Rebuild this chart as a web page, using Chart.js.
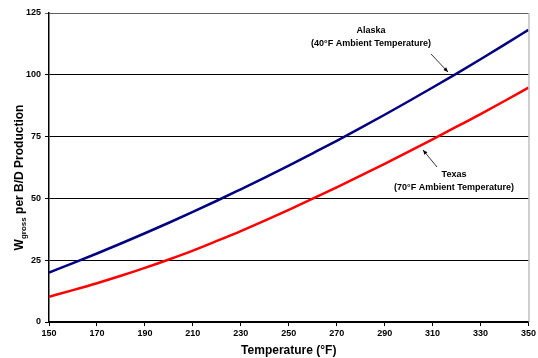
<!DOCTYPE html>
<html>
<head>
<meta charset="utf-8">
<script src="https://cdn.jsdelivr.net/npm/chart.js@4.4.0/dist/chart.umd.min.js"></script>
<style>
  html, body { margin: 0; padding: 0; background: #fff; }
  #wrap { width: 538px; height: 358px; position: relative; }
</style>
</head>
<body>
<div id="wrap"><canvas id="c" width="538" height="358"></canvas></div>
<script>
const temperatures = [150, 160, 170, 180, 190, 200, 210, 220, 230, 240, 250, 260, 270, 280, 290, 300, 310, 320, 330, 340, 350];
const alaskaValues = [20.0, 23.8, 27.7, 31.75, 35.9, 40.15, 44.55, 49.05, 53.7, 58.4, 63.25, 68.25, 73.3, 78.5, 83.85, 89.3, 94.85, 100.5, 106.3, 112.2, 118.2];
const texasValues  = [10.2, 12.9, 15.7, 18.7, 21.9, 25.3, 28.9, 32.8, 36.8, 41.0, 45.4, 49.9, 54.5, 59.2, 64.0, 68.9, 73.9, 79.0, 84.1, 89.4, 94.8];
const xTicks = [150, 170, 190, 210, 230, 250, 270, 290, 310, 330, 350];
const yTicks = [0, 25, 50, 75, 100, 125];
const seriesNames = ["Alaska", "Texas"];

const FONT = "'Liberation Sans', Arial, sans-serif";

function pts(vals) { return temperatures.map((t, i) => ({ x: t, y: vals[i] })); }

const annotations = [
  { lines: ["Alaska", "(40°F Ambient Temperature)"], x: 371, y: 31, from: [431, 54], to: [448, 72] },
  { lines: ["Texas", "(70°F Ambient Temperature)"], x: 454, y: 175, from: [437, 167], to: [423, 150] }
];

const decor = {
  id: 'decor',
  afterDraw(chart) {
    const ctx = chart.ctx;
    const a = chart.chartArea;
    ctx.save();
    // right border
    ctx.strokeStyle = '#a0a0a0';
    ctx.lineWidth = 1;
    ctx.beginPath();
    ctx.moveTo(a.right + 0.5, a.top);
    ctx.lineTo(a.right + 0.5, a.bottom);
    ctx.stroke();
    // y axis title with subscript
    ctx.fillStyle = '#000';
    ctx.translate(19, (a.top + a.bottom) / 2 + 10);
    ctx.rotate(-Math.PI / 2);
    ctx.textBaseline = 'alphabetic';
    const big = 'bold 12px ' + FONT, small = 'bold 8px ' + FONT;
    ctx.font = big; const w1 = ctx.measureText('W').width;
    ctx.font = small; const w2 = ctx.measureText('gross').width;
    ctx.font = big; const w3 = ctx.measureText(' per B/D Production').width;
    let x0 = -(w1 + w2 + w3) / 2;
    ctx.textAlign = 'left';
    ctx.font = big; ctx.fillText('W', x0, 4);
    ctx.font = small; ctx.fillText('gross', x0 + w1, 7);
    ctx.font = big; ctx.fillText(' per B/D Production', x0 + w1 + w2, 4);
    ctx.restore();

    // annotations
    ctx.save();
    ctx.fillStyle = '#000';
    ctx.font = 'bold 9px ' + FONT;
    ctx.textAlign = 'center';
    ctx.textBaseline = 'middle';
    annotations.forEach(an => {
      an.lines.forEach((l, i) => ctx.fillText(l, an.x, an.y + i * 12.5));
      const [x1, y1] = an.from, [x2, y2] = an.to;
      ctx.strokeStyle = '#000';
      ctx.lineWidth = 0.8;
      ctx.beginPath(); ctx.moveTo(x1, y1); ctx.lineTo(x2, y2); ctx.stroke();
      const ang = Math.atan2(y2 - y1, x2 - x1), L = 5;
      ctx.beginPath();
      ctx.moveTo(x2, y2);
      ctx.lineTo(x2 - L * Math.cos(ang - 0.4), y2 - L * Math.sin(ang - 0.4));
      ctx.lineTo(x2 - L * Math.cos(ang + 0.4), y2 - L * Math.sin(ang + 0.4));
      ctx.closePath(); ctx.fill();
    });
    ctx.restore();
  }
};

new Chart(document.getElementById('c'), {
  type: 'line',
  data: {
    datasets: [
      { label: seriesNames[0], data: pts(alaskaValues), borderColor: '#000080', borderWidth: 2.5, pointRadius: 0, cubicInterpolationMode: 'monotone', fill: false },
      { label: seriesNames[1], data: pts(texasValues), borderColor: '#ff0000', borderWidth: 2.5, pointRadius: 0, cubicInterpolationMode: 'monotone', fill: false }
    ]
  },
  options: {
    responsive: false,
    animation: false,
    layout: { padding: { top: 13, right: 9, left: 0, bottom: 0 } },
    plugins: { legend: { display: false }, tooltip: { enabled: false } },
    scales: {
      x: {
        type: 'linear', min: 150, max: 350,
        afterBuildTicks: s => { s.ticks = xTicks.map(v => ({ value: v })); },
        afterFit: s => { s.height = 36; },
        ticks: { color: '#000', font: { family: FONT, size: 9, weight: 'bold' }, padding: 2, maxRotation: 0 },
        grid: { drawOnChartArea: false, drawTicks: true, tickLength: 4, color: '#000' },
        border: { color: '#000', width: 1.5 },
        title: { display: true, text: 'Temperature (°F)', color: '#000', font: { family: FONT, size: 12, weight: 'bold' }, padding: { top: 0, bottom: 0 } }
      },
      y: {
        min: 0, max: 125,
        afterBuildTicks: s => { s.ticks = yTicks.map(v => ({ value: v })); },
        afterFit: s => { s.width = 49; },
        ticks: { color: '#000', font: { family: FONT, size: 9, weight: 'bold' }, padding: 4 },
        grid: { color: ctx => (ctx.tick && ctx.tick.value === 125 ? '#606060' : '#000'), lineWidth: 1, drawTicks: true, tickLength: 4 },
        border: { color: '#000', width: 1.5 }
      }
    }
  },
  plugins: [decor]
});
</script>
</body>
</html>
